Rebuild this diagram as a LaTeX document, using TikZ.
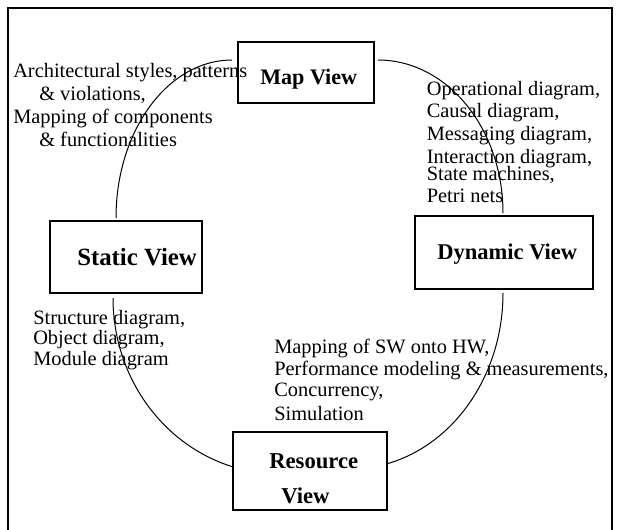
\documentclass[tikz,border=0pt]{standalone}
\usepackage{fontspec}
\setmainfont{Liberation Serif}
\begin{document}
\begin{tikzpicture}[x=0.75pt, y=-0.75pt,
  viewbox/.style={draw, line width=1.5pt, inner sep=0pt, outer sep=0pt},
  viewname/.style={font=\fontsize{16.6}{20}\selectfont\bfseries, inner sep=0pt, anchor=base west},
  note/.style={font=\fontsize{15.3}{18}\selectfont, inner sep=0pt, anchor=base west},
  cyclearc/.style={line width=0.75pt}]
\useasboundingbox (0,0) rectangle (617,529);

% outer frame (open at the bottom)
\draw[line width=1.5pt] (7.5,545) -- (7.5,7.5) -- (612,7.5) -- (612,545);

% the four views
\node[viewbox, minimum width=102pt, minimum height=45.75pt] (map) at (306,72.5) {};
\node[viewbox, minimum width=133.5pt, minimum height=54.75pt] (dyn) at (504,252.5) {};
\node[viewbox, minimum width=114pt, minimum height=54pt] (stat) at (126,257) {};
\node[viewbox, minimum width=115.5pt, minimum height=58.5pt] (res) at (310,471) {};

\node[viewname] (maplbl) at (260,84) {Map View};
\node[viewname, font=\fontsize{16.9}{20}\selectfont\bfseries] (dynlbl) at (437,259) {Dynamic View};
\node[viewname, font=\fontsize{18.6}{22}\selectfont\bfseries] (statlbl) at (77,265.5) {Static View};
\node[viewname, font=\fontsize{17}{20}\selectfont\bfseries] (reslbl1) at (269,468.3) {Resource};
\node[viewname, font=\fontsize{17}{20}\selectfont\bfseries] (reslbl2) at (281,503.3) {View};

% cycle of arcs linking the views
\draw[cyclearc] ([shift={(-6,18)}]map.north west)
  .. controls +(-64.1,0) and +(0,-87.3) .. ([shift={(-10,-3)}]stat.north);
\draw[cyclearc] ([shift={(4,18)}]map.north east)
  .. controls +(69,0) and +(0,-84.5) .. ([shift={(-1,-3)}]dyn.north);
\draw[cyclearc] ([shift={(-1,4)}]dyn.south)
  .. controls +(0,80.8) and +(68.2,-19.6) .. ([shift={(0,-7.2)}]res.east);
\draw[cyclearc] ([shift={(-13,5)}]stat.south)
  .. controls +(0,77.7) and +(-70.7,-22.4) .. ([shift={(-1,-4.4)}]res.west);

% notes for each view
\foreach \txt/\xx/\yy [count=\i] in {{Architectural styles, patterns}/13/77,
    {\& violations,}/39/100, {Mapping of components}/13/123, {\& functionalities}/39/146}
  \node[note] (mapnote\i) at (\xx,\yy) {\txt};

\foreach \txt/\yy [count=\i] in {{Operational diagram,}/95, {Causal diagram,}/117.5,
    {Messaging diagram,}/140.5, {Interaction diagram,}/163.5, {State machines,}/180.5,
    {Petri nets}/202.5}
  \node[note] (dynnote\i) at (426.5,\yy) {\txt};

\foreach \txt/\yy [count=\i] in {{Structure diagram,}/324.5, {Object diagram,}/344.5,
    {Module diagram}/365}
  \node[note] (statnote\i) at (33,\yy) {\txt};

\foreach \txt/\yy [count=\i] in {{Mapping of SW onto HW,}/353, {Performance modeling \& measurements,}/375,
    {Concurrency,}/396, {Simulation}/420}
  \node[note] (resnote\i) at (274,\yy) {\txt};
\end{tikzpicture}
\end{document}
